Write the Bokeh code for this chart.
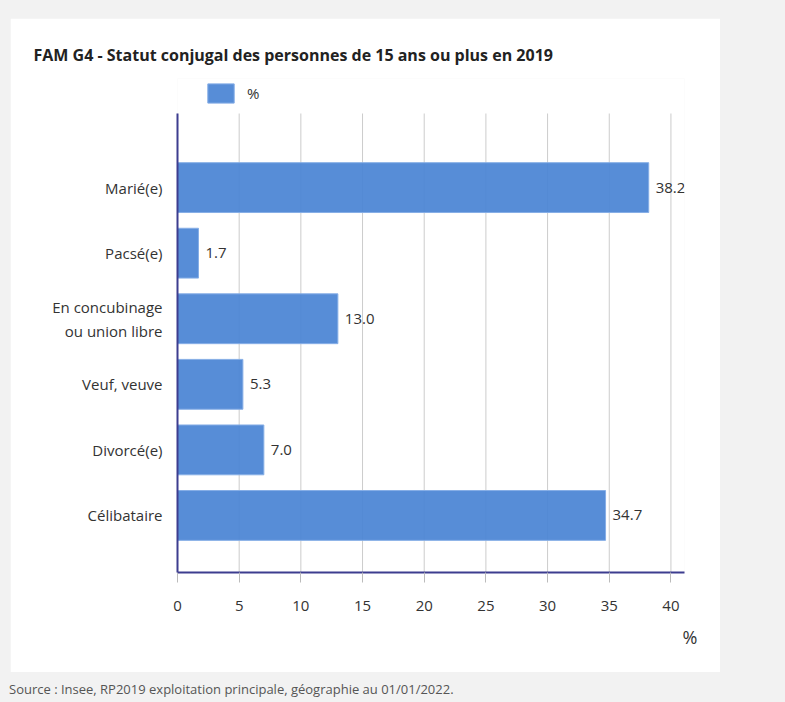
from bokeh.plotting import figure
from bokeh.models import (ColumnDataSource, Range1d, FixedTicker, Legend, LegendItem,
                          Title, Div, Spacer, LabelSet)
from bokeh.core.properties import value
from bokeh.layouts import column, row
from bokeh.embed import file_html
from bokeh.resources import INLINE

# ---- data ----
categories = ["Marié(e)", "Pacsé(e)", "En concubinage\nou union libre",
              "Veuf, veuve", "Divorcé(e)", "Célibataire"]
values = [38.2, 1.7, 13.0, 5.3, 7.0, 34.7]
value_labels = ["38.2", "1.7", "13.0", "5.3", "7.0", "34.7"]
x_ticks = [0, 5, 10, 15, 20, 25, 30, 35, 40]
series_name = "%"
title_text = "FAM G4 - Statut conjugal des personnes de 15 ans ou plus en 2019"
source_text = "Source : Insee, RP2019 exploitation principale, géographie au 01/01/2022."

FONT = "Open Sans"
n = len(categories)
ypos = [n - 1 - i for i in range(n)]
src = ColumnDataSource(dict(y=ypos, v=values, lab=value_labels))

# plot-area geometry (category units)
Y_START = -0.87
Y_AXIS_TOP = n - 1 + 1.13
Y_END = Y_AXIS_TOP + 0.534   # room for the legend above the axis
X_END = 41.1

p = figure(width=710, height=654, output_backend="svg", toolbar_location=None,
           x_range=Range1d(0, X_END), y_range=Range1d(Y_START, Y_END),
           min_border_left=167, min_border_right=36, min_border_top=60,
           min_border_bottom=100, background_fill_color="white",
           border_fill_color="white", outline_line_color=None)

# vertical grid lines at the x ticks, only over the plotting zone
grid_src = ColumnDataSource(dict(x=x_ticks, y0=[Y_START] * len(x_ticks),
                                 y1=[Y_AXIS_TOP] * len(x_ticks)))
p.segment(x0="x", y0="y0", x1="x", y1="y1", source=grid_src,
          line_color="#cccccc", line_width=1)

bars = p.hbar(y="y", right="v", left=0, height=0.76, source=src,
              fill_color="#4a84d4", fill_alpha=0.93,
              line_color="#86aee6", line_width=1)

labels = LabelSet(x="v", y="y", text="lab", source=src, x_offset=7,
                  text_baseline="middle", text_font=value(FONT),
                  text_font_size="15px", text_color="#333333")
p.add_layout(labels)

# axes
p.yaxis.ticker = FixedTicker(ticks=ypos)
p.yaxis.bounds = (Y_START, Y_AXIS_TOP)
p.yaxis.major_label_overrides = {y: c for y, c in zip(ypos, categories)}
p.yaxis.major_tick_line_color = None
p.yaxis.minor_tick_line_color = None
p.yaxis.axis_line_color = "#3d3d8f"
p.yaxis.axis_line_width = 2
p.yaxis.major_label_text_font = FONT
p.yaxis.major_label_text_font_size = "15px"
p.yaxis.major_label_text_color = "#333333"
p.yaxis.major_label_standoff = 9
p.ygrid.grid_line_color = None
p.xgrid.grid_line_color = None

p.xaxis.ticker = FixedTicker(ticks=x_ticks)
p.xaxis.major_tick_in = 0
p.xaxis.major_tick_out = 10
p.xaxis.major_tick_line_color = "#bbbbbb"
p.xaxis.minor_tick_line_color = None
p.xaxis.axis_line_color = "#3d3d8f"
p.xaxis.axis_line_width = 2
p.xaxis.major_label_text_font = FONT
p.xaxis.major_label_text_font_size = "15px"
p.xaxis.major_label_text_color = "#333333"
p.xaxis.major_label_standoff = 18

# "%" unit label under the x axis
unit = Title(text=series_name, align="right", text_font=FONT,
             text_font_size="18px", text_font_style="normal",
             text_color="#333333", offset=-13, standoff=19)
p.add_layout(unit, "below")

# legend just above the axis top
legend = Legend(items=[LegendItem(label=series_name, renderers=[bars])],
                orientation="horizontal", location=(27, 467),
                glyph_width=33, glyph_height=24, margin=0, padding=0,
                border_line_color=None, background_fill_alpha=0,
                label_text_font=FONT, label_text_font_size="15px",
                label_text_color="#333333", label_standoff=10)
p.add_layout(legend, "center")

# title
p.title.text = title_text
p.title.align = "left"
p.title.offset = -144
p.title.standoff = 25
p.title.text_font = FONT
p.title.text_font_size = "16px"
p.title.text_font_style = "bold"
p.title.text_color = "#222222"

src_div = Div(text=source_text, width=760,
              styles={"font-family": FONT, "font-size": "13px", "color": "#555555",
                      "margin-top": "8px", "padding-left": "4px"})

layout = column(Spacer(height=18), row(Spacer(width=10), p), src_div)

html = file_html(layout, INLINE)
i = html.rfind("<body")
html = html[:i] + '<body style="background-color:#f2f2f2;"' + html[i + 5:]
open("out.html", "w").write(html)
